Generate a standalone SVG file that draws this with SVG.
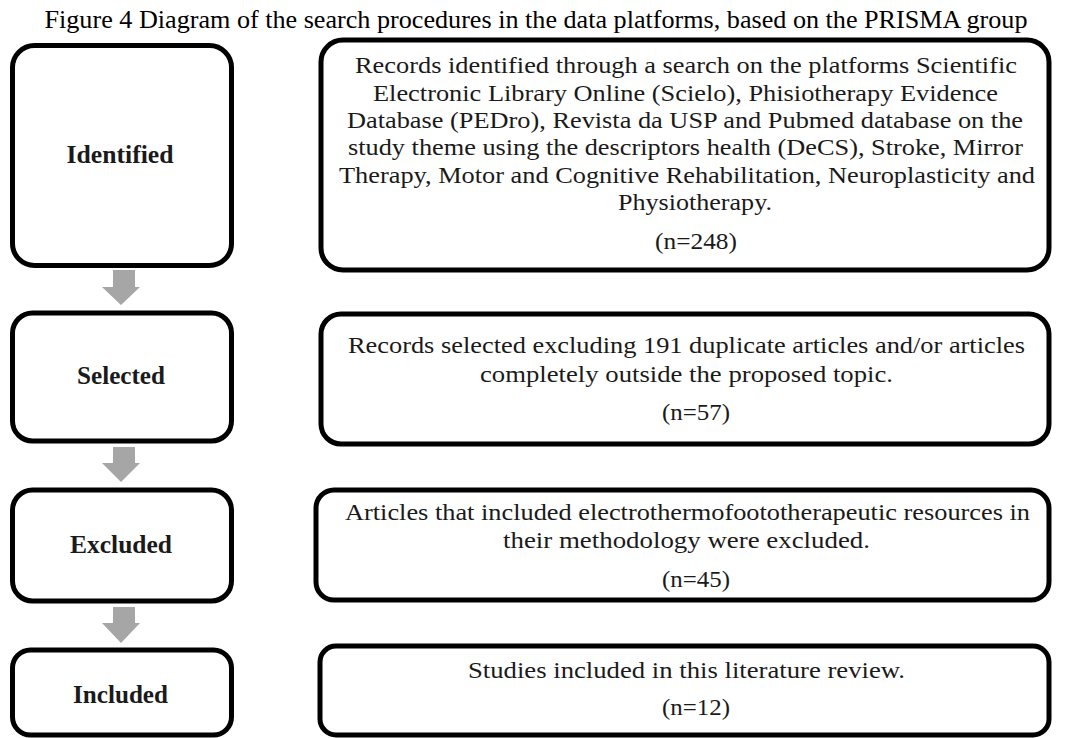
<svg xmlns="http://www.w3.org/2000/svg" width="1075" height="738" viewBox="0 0 1075 738">
<style>
.box{fill:#fff;stroke:#000;stroke-width:5}
.t{font-family:"Liberation Serif","Times New Roman",serif;font-size:22.5px;fill:#1a1a1a;text-anchor:middle}
.lb{font-family:"Liberation Serif","Times New Roman",serif;font-size:25px;font-weight:bold;fill:#1a1a1a;text-anchor:middle}
.title{font-family:"Liberation Serif","Times New Roman",serif;font-size:25.5px;fill:#000;text-anchor:middle}
.arr{fill:#a6a6a6}
</style>
<rect width="1075" height="738" fill="#fff"/>
<text class="title" x="536" y="28" textLength="983" lengthAdjust="spacingAndGlyphs">Figure 4 Diagram of the search procedures in the data platforms, based on the PRISMA group</text>

<g id="stage-identified">
<rect class="box" x="12.5" y="45.5" width="219" height="220" rx="22"/>
<text class="lb" x="120" y="163" textLength="107" lengthAdjust="spacingAndGlyphs">Identified</text>
</g>
<g id="stage-selected">
<rect class="box" x="12.5" y="313" width="219" height="128" rx="20"/>
<text class="lb" x="121" y="384" textLength="88" lengthAdjust="spacingAndGlyphs">Selected</text>
</g>
<g id="stage-excluded">
<rect class="box" x="12.5" y="490" width="219" height="111" rx="20"/>
<text class="lb" x="121" y="553" textLength="102" lengthAdjust="spacingAndGlyphs">Excluded</text>
</g>
<g id="stage-included">
<rect class="box" x="12.5" y="650" width="219" height="85" rx="18"/>
<text class="lb" x="120.5" y="703" textLength="95" lengthAdjust="spacingAndGlyphs">Included</text>
</g>

<g id="desc-identified">
<rect class="box" x="321" y="40" width="728" height="230" rx="22"/>
<text class="t" x="686" y="73" textLength="662" lengthAdjust="spacingAndGlyphs">Records identified through a search on the platforms Scientific</text>
<text class="t" x="685.5" y="101" textLength="625" lengthAdjust="spacingAndGlyphs">Electronic Library Online (Scielo), Phisiotherapy Evidence</text>
<text class="t" x="685" y="128" textLength="676" lengthAdjust="spacingAndGlyphs">Database (PEDro), Revista da USP and Pubmed database on the</text>
<text class="t" x="685.5" y="155" textLength="675" lengthAdjust="spacingAndGlyphs">study theme using the descriptors health (DeCS), Stroke, Mirror</text>
<text class="t" x="687" y="183" textLength="696" lengthAdjust="spacingAndGlyphs">Therapy, Motor and Cognitive Rehabilitation, Neuroplasticity and</text>
<text class="t" x="695" y="210" textLength="154" lengthAdjust="spacingAndGlyphs">Physiotherapy.</text>
<text class="t" x="696" y="249" textLength="82" lengthAdjust="spacingAndGlyphs">(n=248)</text>
</g>
<g id="desc-selected">
<rect class="box" x="321" y="314" width="728" height="130" rx="20"/>
<text class="t" x="686.5" y="353" textLength="677" lengthAdjust="spacingAndGlyphs">Records selected excluding 191 duplicate articles and/or articles</text>
<text class="t" x="686.5" y="382" textLength="413" lengthAdjust="spacingAndGlyphs">completely outside the proposed topic.</text>
<text class="t" x="696" y="420" textLength="68" lengthAdjust="spacingAndGlyphs">(n=57)</text>
</g>
<g id="desc-excluded">
<rect class="box" x="316" y="490" width="733" height="110" rx="18"/>
<text class="t" x="687.5" y="520" textLength="685" lengthAdjust="spacingAndGlyphs">Articles that included electrothermofoototherapeutic resources in</text>
<text class="t" x="686.5" y="548" textLength="367" lengthAdjust="spacingAndGlyphs">their methodology were excluded.</text>
<text class="t" x="696" y="587" textLength="68" lengthAdjust="spacingAndGlyphs">(n=45)</text>
</g>
<g id="desc-included">
<rect class="box" x="320" y="646" width="729" height="89" rx="16"/>
<text class="t" x="686.5" y="678" textLength="437" lengthAdjust="spacingAndGlyphs">Studies included in this literature review.</text>
<text class="t" x="696" y="715" textLength="68" lengthAdjust="spacingAndGlyphs">(n=12)</text>
</g>

<g id="connectors">
<polygon class="arr" points="113,270 135,270 135,287 140,287 121,305 102,287 113,287"/>
<polygon class="arr" points="113,447 135,447 135,463 140,463 121,482 102,463 113,463"/>
<polygon class="arr" points="113,607 135,607 135,623 140,623 121,643 102,623 113,623"/>
</g>
</svg>
